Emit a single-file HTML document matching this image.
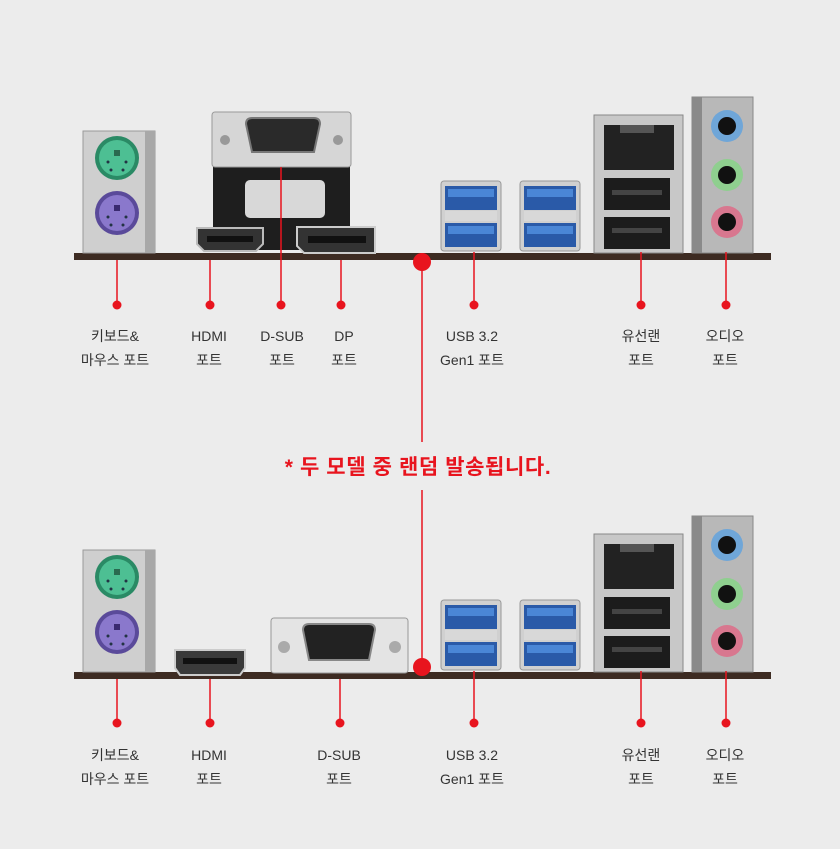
<!DOCTYPE html>
<html><head><meta charset="utf-8"><style>
html,body{margin:0;padding:0;background:#ececec}
svg{display:block}
text{font-family:"Liberation Sans","Noto Sans CJK KR",sans-serif}
</style></head><body>
<svg width="840" height="849" viewBox="0 0 840 849" xmlns="http://www.w3.org/2000/svg">
<rect width="840" height="849" fill="#ececec"/>
<defs>
<g id="ps2">
 <rect x="83" y="131" width="72" height="122" fill="#cfcfcf" stroke="#9a9a9a"/>
 <rect x="145" y="131" width="10" height="122" fill="#a8a8a8"/>
 <circle cx="117" cy="158" r="22" fill="#2a8a65"/><circle cx="117" cy="158" r="18" fill="#4dbf93"/>
 <circle cx="117" cy="213" r="22" fill="#5a4a9a"/><circle cx="117" cy="213" r="18" fill="#8a78cc"/>
 <rect x="114" y="150" width="6" height="6" fill="#2a6a50"/><rect x="114" y="205" width="6" height="6" fill="#3a2a70"/>
 <g fill="#234"><circle cx="108" cy="162" r="1.5"/><circle cx="126" cy="162" r="1.5"/><circle cx="111" cy="170" r="1.5"/><circle cx="123" cy="170" r="1.5"/>
 <circle cx="108" cy="217" r="1.5"/><circle cx="126" cy="217" r="1.5"/><circle cx="111" cy="225" r="1.5"/><circle cx="123" cy="225" r="1.5"/></g>
</g>
<g id="usb">
 <rect x="0" y="0" width="60" height="70" rx="3" fill="#d0d0d0" stroke="#999"/>
 <rect x="4" y="5" width="52" height="24" fill="#2a5aa8"/><rect x="7" y="8" width="46" height="8" fill="#4a86d6"/>
 <rect x="4" y="30" width="52" height="10" fill="#d8d8d8"/>
 <rect x="4" y="42" width="52" height="24" fill="#2a5aa8"/><rect x="7" y="45" width="46" height="8" fill="#4a86d6"/>
</g>
<g id="right">
 <use href="#usb" x="441" y="181"/><use href="#usb" x="520" y="181"/>
 <rect x="594" y="115" width="89" height="138" fill="#c8c8c8" stroke="#888"/>
 <rect x="604" y="125" width="70" height="45" fill="#222"/><rect x="620" y="125" width="34" height="8" fill="#555"/>
 <rect x="604" y="178" width="66" height="32" fill="#1c1c1c"/><rect x="612" y="190" width="50" height="5" fill="#444"/>
 <rect x="604" y="217" width="66" height="32" fill="#1c1c1c"/><rect x="612" y="228" width="50" height="5" fill="#444"/>
 <rect x="692" y="97" width="61" height="156" fill="#b8b8b8" stroke="#888"/>
 <rect x="692" y="97" width="10" height="156" fill="#8a8a8a"/>
 <circle cx="727" cy="126" r="16" fill="#6fa6d8"/><circle cx="727" cy="126" r="9" fill="#111"/>
 <circle cx="727" cy="175" r="16" fill="#8fcf8f"/><circle cx="727" cy="175" r="9" fill="#111"/>
 <circle cx="727" cy="222" r="16" fill="#d8778f"/><circle cx="727" cy="222" r="9" fill="#111"/>
</g>
</defs>

<rect x="74" y="253" width="697" height="7" fill="#3d2b22"/>
<use href="#ps2"/>
<rect x="213" y="160" width="137" height="90" fill="#1e1e1e"/>
<rect x="245" y="180" width="80" height="38" rx="5" fill="#d8d8d8"/>
<rect x="212" y="112" width="139" height="55" rx="3" fill="#d6d6d6" stroke="#999"/>
<path d="M246 124 Q246 118 252 118 L314 118 Q320 118 320 124 L314 152 L252 152 Z" fill="#2a2a2a" stroke="#777" stroke-width="2"/>
<circle cx="225" cy="140" r="5" fill="#999"/><circle cx="338" cy="140" r="5" fill="#999"/>
<path d="M197 228 L263 228 L263 244 L256 251 L204 251 L197 244 Z" fill="#333" stroke="#bbb" stroke-width="2"/>
<rect x="207" y="236" width="46" height="6" fill="#111"/>
<path d="M297 227 L375 227 L375 253 L304 253 L297 246 Z" fill="#333" stroke="#ccc" stroke-width="2"/>
<rect x="308" y="236" width="58" height="7" fill="#111"/>
<use href="#right"/>

<rect x="74" y="672" width="697" height="7" fill="#3d2b22"/>
<use href="#ps2" y="419"/>
<path d="M175 650 L245 650 L245 668 L240 675 L180 675 L175 668 Z" fill="#3a3a3a" stroke="#ccc" stroke-width="2"/>
<rect x="183" y="658" width="54" height="6" fill="#111"/>
<rect x="271" y="618" width="137" height="55" rx="3" fill="#e4e4e4" stroke="#999"/>
<path d="M303 630 Q303 624 309 624 L369 624 Q375 624 375 630 L369 660 L309 660 Z" fill="#222" stroke="#888" stroke-width="2"/>
<circle cx="284" cy="647" r="6" fill="#aaa"/><circle cx="395" cy="647" r="6" fill="#aaa"/>
<use href="#right" y="419"/>

<g stroke="#e8141e" stroke-width="1.5">
 <line x1="117" y1="260" x2="117" y2="305"/><line x1="210" y1="260" x2="210" y2="305"/>
 <line x1="281" y1="167" x2="281" y2="305"/><line x1="341" y1="260" x2="341" y2="305"/>
 <line x1="474" y1="252" x2="474" y2="305"/><line x1="641" y1="252" x2="641" y2="305"/><line x1="726" y1="252" x2="726" y2="305"/>
 <line x1="117" y1="679" x2="117" y2="723"/><line x1="210" y1="679" x2="210" y2="723"/>
 <line x1="340" y1="679" x2="340" y2="723"/><line x1="474" y1="671" x2="474" y2="723"/>
 <line x1="641" y1="671" x2="641" y2="723"/><line x1="726" y1="671" x2="726" y2="723"/>
 <line x1="422" y1="262" x2="422" y2="442"/><line x1="422" y1="490" x2="422" y2="667"/>
</g>
<g fill="#e8141e">
 <circle cx="422" cy="262" r="9"/><circle cx="422" cy="667" r="9"/>
 <circle cx="117" cy="305" r="4.5"/><circle cx="210" cy="305" r="4.5"/><circle cx="281" cy="305" r="4.5"/><circle cx="341" cy="305" r="4.5"/>
 <circle cx="474" cy="305" r="4.5"/><circle cx="641" cy="305" r="4.5"/><circle cx="726" cy="305" r="4.5"/>
 <circle cx="117" cy="723" r="4.5"/><circle cx="210" cy="723" r="4.5"/><circle cx="340" cy="723" r="4.5"/>
 <circle cx="474" cy="723" r="4.5"/><circle cx="641" cy="723" r="4.5"/><circle cx="726" cy="723" r="4.5"/>
</g>
<text x="418" y="474" text-anchor="middle" font-size="21" font-weight="bold" letter-spacing="0.6" fill="#e8141e">* 두 모델 중 랜덤 발송됩니다.</text>

<g font-size="14" fill="#333" text-anchor="middle">
 <text x="115" y="341">키보드&amp;</text><text x="115" y="365">마우스 포트</text>
 <text x="209" y="341">HDMI</text><text x="209" y="365">포트</text>
 <text x="282" y="341">D-SUB</text><text x="282" y="365">포트</text>
 <text x="344" y="341">DP</text><text x="344" y="365">포트</text>
 <text x="472" y="341">USB 3.2</text><text x="472" y="365">Gen1 포트</text>
 <text x="641" y="341">유선랜</text><text x="641" y="365">포트</text>
 <text x="725" y="341">오디오</text><text x="725" y="365">포트</text>
 <text x="115" y="760">키보드&amp;</text><text x="115" y="784">마우스 포트</text>
 <text x="209" y="760">HDMI</text><text x="209" y="784">포트</text>
 <text x="339" y="760">D-SUB</text><text x="339" y="784">포트</text>
 <text x="472" y="760">USB 3.2</text><text x="472" y="784">Gen1 포트</text>
 <text x="641" y="760">유선랜</text><text x="641" y="784">포트</text>
 <text x="725" y="760">오디오</text><text x="725" y="784">포트</text>
</g>
</svg>
</body></html>
